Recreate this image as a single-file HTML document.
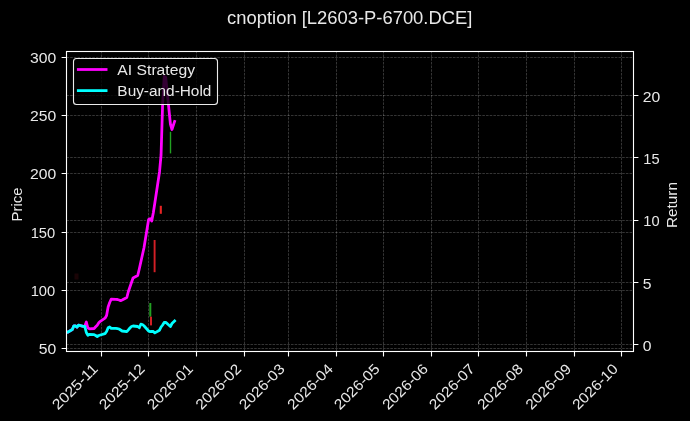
<!DOCTYPE html><html><head><meta charset="utf-8"><style>html,body{margin:0;padding:0;background:#000;}svg{display:block;}text{font-family:"Liberation Sans",sans-serif;fill:#e8e8e8;}</style></head><body>
<svg width="690" height="421" viewBox="0 0 690 421">
<rect x="0" y="0" width="690" height="421" fill="#000"/>
<defs><clipPath id="ax"><rect x="66.5" y="51.5" width="567.0" height="300.0"/></clipPath></defs>
<rect x="149.30" y="303.0" width="2.0" height="13.70" fill="#22a022"/>
<rect x="150.00" y="316.7" width="2.0" height="8.70" fill="#d41f26"/>
<rect x="153.65" y="240.0" width="1.9" height="32.20" fill="#d41f26"/>
<rect x="159.75" y="205.8" width="2.1" height="8.00" fill="#e82424"/>
<rect x="169.80" y="131.8" width="1.4" height="21.60" fill="#22a022"/>
<rect x="74.50" y="273.5" width="4.0" height="6.00" fill="#1a0406"/>
<path d="M66.5 57.5H633.5M66.5 115.5H633.5M66.5 173.5H633.5M66.5 232.5H633.5M66.5 290.5H633.5M66.5 348.5H633.5M101.5 351.5V51.5M148.5 351.5V51.5M196.5 351.5V51.5M244.5 351.5V51.5M288.5 351.5V51.5M336.5 351.5V51.5M383.5 351.5V51.5M431.5 351.5V51.5M478.5 351.5V51.5M526.5 351.5V51.5M574.5 351.5V51.5M621.5 351.5V51.5" stroke="#fff" stroke-opacity="0.3" stroke-width="0.69" stroke-dasharray="2.57 1.11" fill="none"/>
<path d="M66.5 95.5H633.5M66.5 157.5H633.5M66.5 220.5H633.5M66.5 282.5H633.5M66.5 344.5H633.5" stroke="#fff" stroke-opacity="0.3" stroke-width="0.69" stroke-dasharray="2.57 1.11" fill="none"/>
<polyline points="66.09,332.60 67.65,332.20 72.32,329.50 73.88,325.80 75.43,325.90 76.99,327.20 78.55,325.20 83.22,326.30 84.77,326.30 86.33,322.00 87.89,328.00 89.44,328.80 94.12,328.50 95.67,326.80 97.23,325.20 98.79,322.80 100.34,321.30 105.01,318.20 106.57,315.50 108.13,307.00 109.68,302.50 111.24,299.20 115.91,299.40 117.47,299.50 119.03,300.00 120.58,300.60 122.14,300.00 126.81,297.50 128.37,291.50 129.92,287.00 131.48,282.50 133.04,278.00 137.71,275.50 139.27,269.00 140.82,262.00 142.38,255.00 143.94,248.00 148.61,219.50 150.16,218.60 151.72,221.00 153.28,213.00 154.83,203.00 159.51,172.00 161.06,155.00 162.62,104.00 164.18,76.50 165.73,77.50 170.40,124.00 171.96,129.50 174.60,121.50" fill="none" stroke="#ff00ff" stroke-width="2.78" stroke-linejoin="round" stroke-linecap="square" clip-path="url(#ax)"/>
<polyline points="66.09,332.60 67.65,332.20 72.32,329.50 73.88,325.80 75.43,325.90 76.99,327.20 78.55,325.20 83.22,326.30 84.77,326.30 86.33,332.50 87.89,335.20 89.44,334.30 94.12,334.60 95.67,335.50 97.23,336.50 98.79,335.50 100.34,335.00 105.01,333.60 106.57,331.50 108.13,327.80 109.68,327.00 111.24,328.40 115.91,328.40 117.47,328.60 119.03,329.00 120.58,330.00 122.14,331.00 126.81,331.60 128.37,329.80 129.92,328.00 131.48,326.50 133.04,326.00 137.71,326.50 139.27,327.80 140.82,324.20 142.38,324.50 143.94,325.80 148.61,331.00 150.16,331.60 151.72,331.30 153.28,331.50 154.83,332.90 159.51,330.20 161.06,327.00 162.62,325.00 164.18,322.50 165.73,322.30 170.40,326.50 171.96,323.50 174.60,321.00" fill="none" stroke="#00ffff" stroke-width="2.78" stroke-linejoin="round" stroke-linecap="square" clip-path="url(#ax)"/>
<rect x="66.5" y="51.5" width="567.0" height="300.0" fill="none" stroke="#fff" stroke-width="1.11"/>
<path d="M61.6 57.5H66.5M61.6 115.5H66.5M61.6 173.5H66.5M61.6 232.5H66.5M61.6 290.5H66.5M61.6 348.5H66.5M633.5 95.5H638.4M633.5 157.5H638.4M633.5 220.5H638.4M633.5 282.5H638.4M633.5 344.5H638.4M101.5 351.5V356.4M148.5 351.5V356.4M196.5 351.5V356.4M244.5 351.5V356.4M288.5 351.5V356.4M336.5 351.5V356.4M383.5 351.5V356.4M431.5 351.5V356.4M478.5 351.5V356.4M526.5 351.5V356.4M574.5 351.5V356.4M621.5 351.5V356.4" stroke="#fff" stroke-width="1.11" fill="none"/>
<rect x="73.5" y="58.5" width="144.0" height="46.0" rx="3" ry="3" fill="#000" fill-opacity="0.8" stroke="#fff" stroke-opacity="0.92" stroke-width="1.11"/>
<path d="M78.3 69.5H106.1" stroke="#ff00ff" stroke-width="2.78" stroke-linecap="square"/>
<path d="M78.3 90.6H106.1" stroke="#00ffff" stroke-width="2.78" stroke-linecap="square"/>
<g style="will-change:transform">
<text x="58.13" y="410.55" font-size="14.58" textLength="57.62" lengthAdjust="spacingAndGlyphs" transform="rotate(-45 58.13 410.55)">2025-11</text>
<text x="104.93" y="410.46" font-size="14.58" textLength="57.50" lengthAdjust="spacingAndGlyphs" transform="rotate(-45 104.93 410.46)">2025-12</text>
<text x="153.10" y="410.55" font-size="14.58" textLength="57.62" lengthAdjust="spacingAndGlyphs" transform="rotate(-45 153.10 410.55)">2026-01</text>
<text x="201.45" y="410.46" font-size="14.58" textLength="57.50" lengthAdjust="spacingAndGlyphs" transform="rotate(-45 201.45 410.46)">2026-02</text>
<text x="245.05" y="410.46" font-size="14.58" textLength="57.50" lengthAdjust="spacingAndGlyphs" transform="rotate(-45 245.05 410.46)">2026-03</text>
<text x="293.31" y="410.46" font-size="14.58" textLength="57.50" lengthAdjust="spacingAndGlyphs" transform="rotate(-45 293.31 410.46)">2026-04</text>
<text x="340.02" y="410.46" font-size="14.58" textLength="57.50" lengthAdjust="spacingAndGlyphs" transform="rotate(-45 340.02 410.46)">2026-05</text>
<text x="388.19" y="410.55" font-size="14.58" textLength="57.62" lengthAdjust="spacingAndGlyphs" transform="rotate(-45 388.19 410.55)">2026-06</text>
<text x="434.99" y="410.46" font-size="14.58" textLength="57.50" lengthAdjust="spacingAndGlyphs" transform="rotate(-45 434.99 410.46)">2026-07</text>
<text x="483.17" y="410.55" font-size="14.58" textLength="57.62" lengthAdjust="spacingAndGlyphs" transform="rotate(-45 483.17 410.55)">2026-08</text>
<text x="531.43" y="410.55" font-size="14.58" textLength="57.62" lengthAdjust="spacingAndGlyphs" transform="rotate(-45 531.43 410.55)">2026-09</text>
<text x="578.14" y="410.55" font-size="14.58" textLength="57.62" lengthAdjust="spacingAndGlyphs" transform="rotate(-45 578.14 410.55)">2026-10</text>
<text x="38.78" y="354.00" font-size="14.58" textLength="17.50" lengthAdjust="spacingAndGlyphs">50</text>
<text x="30.65" y="295.80" font-size="14.58" textLength="24.57" lengthAdjust="spacingAndGlyphs">100</text>
<text x="30.65" y="237.60" font-size="14.58" textLength="24.57" lengthAdjust="spacingAndGlyphs">150</text>
<text x="30.03" y="179.40" font-size="14.58" textLength="26.25" lengthAdjust="spacingAndGlyphs">200</text>
<text x="30.03" y="121.20" font-size="14.58" textLength="26.25" lengthAdjust="spacingAndGlyphs">250</text>
<text x="30.03" y="63.00" font-size="14.58" textLength="26.25" lengthAdjust="spacingAndGlyphs">300</text>
<text x="21.55" y="221.44" font-size="14.58" textLength="33.88" lengthAdjust="spacingAndGlyphs" transform="rotate(-90 21.55 221.44)">Price</text>
<text x="642.72" y="350.90" font-size="14.58" textLength="8.75" lengthAdjust="spacingAndGlyphs">0</text>
<text x="642.72" y="288.60" font-size="14.58" textLength="8.75" lengthAdjust="spacingAndGlyphs">5</text>
<text x="643.22" y="226.30" font-size="14.58" textLength="16.32" lengthAdjust="spacingAndGlyphs">10</text>
<text x="643.22" y="164.00" font-size="14.58" textLength="16.32" lengthAdjust="spacingAndGlyphs">15</text>
<text x="642.72" y="101.70" font-size="14.58" textLength="17.50" lengthAdjust="spacingAndGlyphs">20</text>
<text x="677.40" y="228.00" font-size="14.58" textLength="46.00" lengthAdjust="spacingAndGlyphs" transform="rotate(-90 677.40 228.00)">Return</text>
<text x="117.39" y="74.50" font-size="14.58" textLength="77.62" lengthAdjust="spacingAndGlyphs">AI Strategy</text>
<text x="117.39" y="95.94" font-size="14.58" textLength="94.00" lengthAdjust="spacingAndGlyphs">Buy-and-Hold</text>
<text x="227.13" y="24.00" font-size="17.50" textLength="245.25" lengthAdjust="spacingAndGlyphs">cnoption [L2603-P-6700.DCE]</text>
</g>
</svg></body></html>
